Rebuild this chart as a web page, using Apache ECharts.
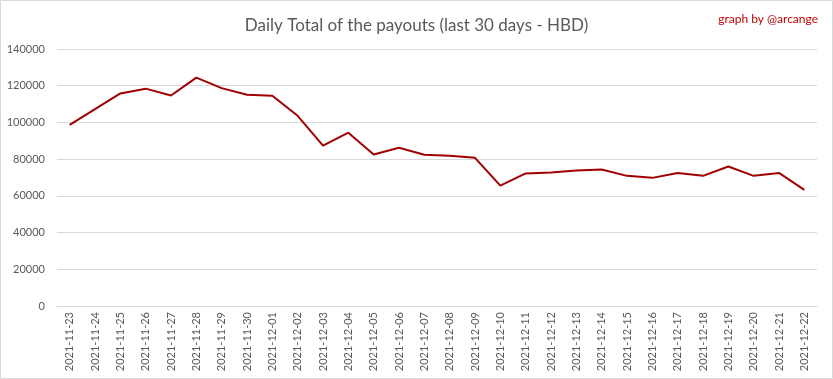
<!DOCTYPE html>
<html>
<head>
<meta charset="utf-8">
<script src="https://cdn.jsdelivr.net/npm/echarts@6/dist/echarts.min.js"></script>
<style>
html,body{margin:0;padding:0;background:#fff;}
#c{width:833px;height:379px;}
</style>
</head>
<body>
<div id="c"></div>
<script>
const categories = ["2021-11-23","2021-11-24","2021-11-25","2021-11-26","2021-11-27","2021-11-28","2021-11-29","2021-11-30","2021-12-01","2021-12-02","2021-12-03","2021-12-04","2021-12-05","2021-12-06","2021-12-07","2021-12-08","2021-12-09","2021-12-10","2021-12-11","2021-12-12","2021-12-13","2021-12-14","2021-12-15","2021-12-16","2021-12-17","2021-12-18","2021-12-19","2021-12-20","2021-12-21","2021-12-22"];
const payouts = [98700,107300,115800,118400,114700,124400,118700,115100,114500,103600,87400,94400,82500,86200,82400,81800,80700,65600,72200,72700,73800,74400,70900,69800,72500,70900,76000,70900,72500,63300];
const titleText = "Daily Total of the payouts (last 30 days - HBD)";
const creditText = "graph by @arcange";

const chart = echarts.init(document.getElementById('c'), null, {renderer:'canvas'});
chart.setOption({
  animation:false,
  backgroundColor:'#fff',
  title:[
    {text:titleText,left:'center',top:12,textStyle:{fontFamily:'Lato',fontSize:17,fontWeight:'normal',color:'#595959'}},
    {text:creditText,right:10,top:8,textStyle:{fontFamily:'Lato',fontSize:12,fontWeight:'normal',color:'#c00000'}}
  ],
  graphic:[{type:'rect',shape:{x:0.5,y:0.5,width:832,height:378},style:{fill:'none',stroke:'#d9d9d9',lineWidth:1},silent:true}],
  grid:{left:57,right:16,top:49,bottom:73},
  xAxis:{
    type:'category',data:categories,boundaryGap:true,
    axisLine:{show:true,lineStyle:{color:'#d9d9d9'}},
    axisTick:{show:false},
    axisLabel:{rotate:90,interval:0,color:'#595959',fontFamily:'Lato',fontSize:11,margin:6}
  },
  yAxis:{
    type:'value',min:0,max:140000,interval:20000,
    axisLine:{show:false},axisTick:{show:false},
    splitLine:{lineStyle:{color:'#d9d9d9'}},
    axisLabel:{color:'#595959',fontFamily:'Lato',fontSize:11,margin:12,formatter:function(v){return String(v);}}
  },
  series:[{type:'line',data:payouts,symbol:'none',lineStyle:{color:'#a00000',width:2},itemStyle:{color:'#a00000'}}]
});
</script>
</body>
</html>
